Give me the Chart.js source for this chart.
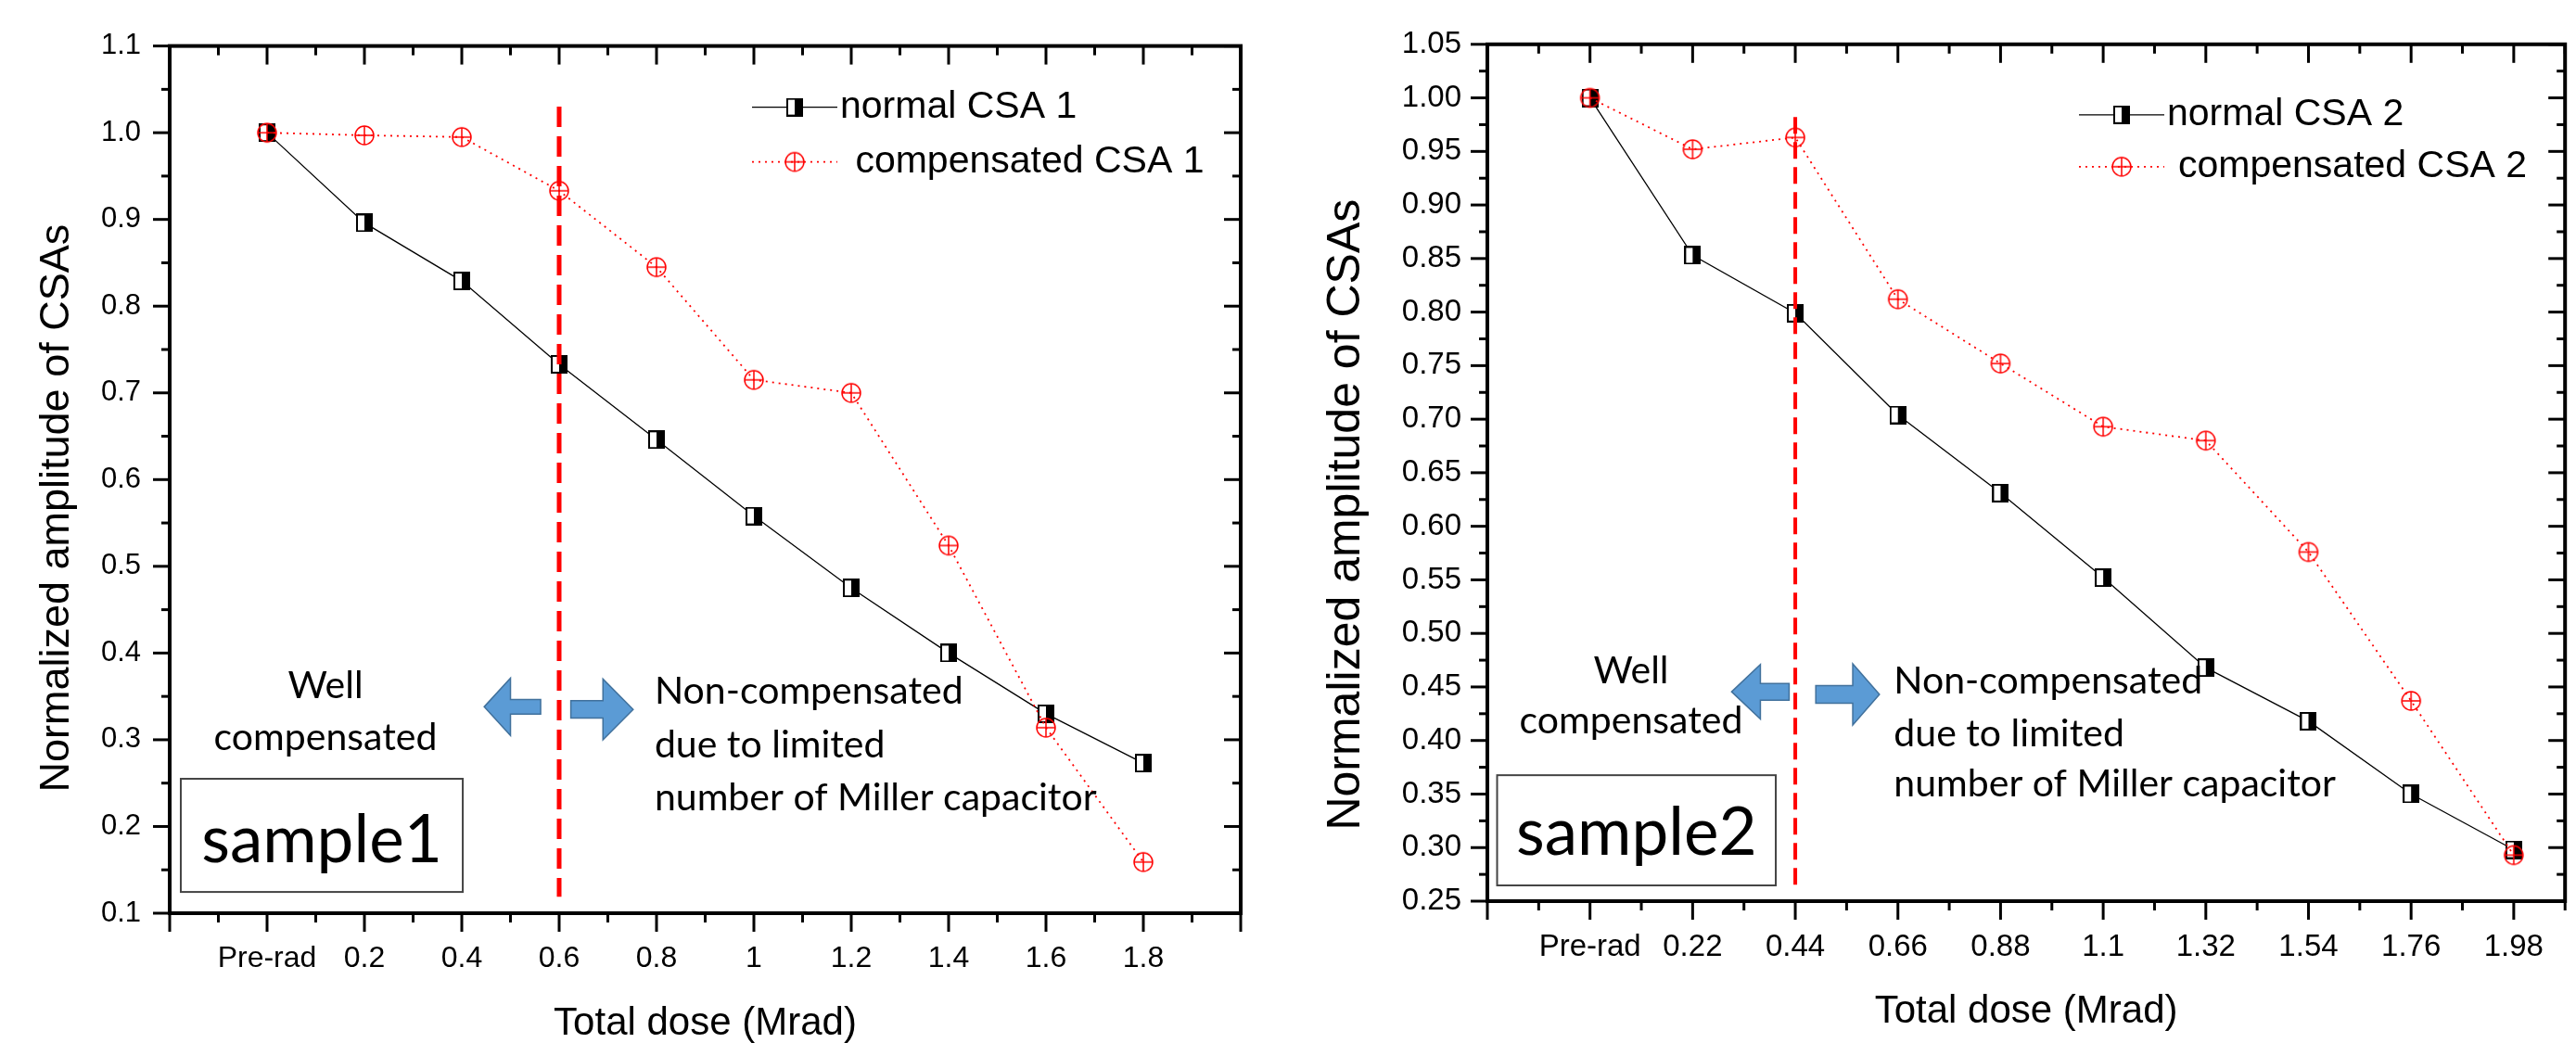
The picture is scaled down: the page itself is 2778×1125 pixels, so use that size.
<!DOCTYPE html>
<html>
<head>
<meta charset="utf-8">
<title>Normalized amplitude of CSAs vs total dose</title>
<script src="https://cdn.jsdelivr.net/npm/chart.js@4.4.0/dist/chart.umd.min.js"></script>
<style>
  body { margin: 0; background: #fff; }
  #wrap { position: relative; width: 2778px; height: 1125px; overflow: hidden; }
  canvas { position: absolute; top: 0; }
  #chart1 { left: 0; }
  #chart2 { left: 1390px; }
</style>
</head>
<body>
<div id="wrap">
  <canvas id="chart1" width="1390" height="1125"></canvas>
  <canvas id="chart2" width="1388" height="1125"></canvas>
</div>
<script>
// sample 1
const labels1 = ['Pre-rad', '0.2', '0.4', '0.6', '0.8', '1', '1.2', '1.4', '1.6', '1.8'];
const normal1 = [1.0, 0.896, 0.829, 0.733, 0.646, 0.558, 0.475, 0.400, 0.330, 0.273];
const comp1 = [1.0, 0.997, 0.995, 0.933, 0.845, 0.715, 0.700, 0.524, 0.314, 0.159];
const divider1 = [1.03, 0.119];   // dashed line at 0.6 Mrad (index 3)

// sample 2
const labels2 = ['Pre-rad', '0.22', '0.44', '0.66', '0.88', '1.1', '1.32', '1.54', '1.76', '1.98'];
const normal2 = [1.0, 0.853, 0.799, 0.704, 0.631, 0.552, 0.468, 0.418, 0.350, 0.298];
const comp2 = [1.0, 0.952, 0.963, 0.812, 0.752, 0.693, 0.680, 0.576, 0.437, 0.293];
const divider2 = [0.982, 0.265]; // dashed line at 0.44 Mrad (index 2)

const SANS = "'Liberation Sans', Arial, sans-serif";
const NOTE = "Lato, 'Open Sans', sans-serif";
Chart.defaults.font.family = SANS;
Chart.defaults.color = '#000';

// half white / half black square marker
function halfSquare() {
  const c = document.createElement('canvas');
  c.width = 18; c.height = 20;
  const g = c.getContext('2d');
  g.fillStyle = '#fff'; g.fillRect(0, 0, 18, 20);
  g.fillStyle = '#000'; g.fillRect(9, 0, 9, 20);
  g.strokeStyle = '#000'; g.lineWidth = 2; g.strokeRect(1, 1, 16, 18);
  return c;
}
// red circle with a cross
function circlePlus() {
  const c = document.createElement('canvas');
  c.width = 24; c.height = 24;
  const g = c.getContext('2d');
  g.strokeStyle = '#ff0000'; g.lineWidth = 1.5;
  g.beginPath(); g.arc(12, 12, 10, 0, Math.PI * 2); g.stroke();
  g.beginPath(); g.moveTo(2, 12); g.lineTo(22, 12); g.moveTo(12, 2); g.lineTo(12, 22); g.stroke();
  return c;
}
const sqMark = halfSquare();
const cpMark = circlePlus();

const pts = arr => arr.map((v, i) => ({x: i, y: v}));

// box frame, origin-style ticks, legend, notes and y title
const decor = {
  id: 'decor',
  afterDraw(chart, args, o) {
    const {ctx, chartArea: a, scales: {x, y}} = chart;
    const line = (x0, y0, x1, y1) => { ctx.beginPath(); ctx.moveTo(x0, y0); ctx.lineTo(x1, y1); ctx.stroke(); };
    ctx.save();
    ctx.strokeStyle = '#000';
    ctx.lineWidth = 4;
    ctx.strokeRect(a.left, a.top, a.right - a.left, a.bottom - a.top);
    ctx.lineWidth = 3;
    const nx = Math.round((x.max - x.min) / 0.5);
    for (let k = 0; k <= nx; k++) {
      const px = x.getPixelForValue(x.min + k * 0.5);
      const len = k % 2 === 0 ? 20 : 10;
      line(px, a.bottom, px, a.bottom + len);
      line(px, a.top, px, a.top + len);
    }
    const ny = Math.round((y.max - y.min) / o.yMinor);
    for (let k = 0; k <= ny; k++) {
      const py = y.getPixelForValue(y.min + k * o.yMinor);
      const len = k % 2 === 0 ? 18 : 9;
      line(a.left - len, py, a.left, py);
      line(a.right - len, py, a.right, py);
    }

    // legend
    ctx.font = '41px ' + SANS;
    ctx.fillStyle = '#000';
    ctx.textBaseline = 'middle';
    ctx.textAlign = 'left';
    chart.data.datasets.filter(d => d.legend).forEach((d, r) => {
      const ly = a.top + o.legendTop + r * o.legendGap;
      const lx = a.left + o.legendLeft;
      ctx.strokeStyle = d.borderColor;
      ctx.lineWidth = d.borderWidth;
      ctx.setLineDash(d.borderDash || []);
      line(lx, ly, lx + 92, ly);
      ctx.setLineDash([]);
      const m = d.pointStyle;
      ctx.drawImage(m, lx + 46 - m.width / 2, ly - m.height / 2);
      ctx.fillText(d.label, lx + d.legend, ly);
    });

    // y title
    ctx.save();
    ctx.translate(o.titleX, a.top + o.titleY * (a.bottom - a.top));
    ctx.rotate(-Math.PI / 2);
    ctx.textAlign = 'center';
    ctx.font = o.titleSize + 'px ' + SANS;
    ctx.fillText('Normalized amplitude of CSAs', 0, 0);
    ctx.restore();

    // arrows
    ctx.fillStyle = '#5b9bd5';
    ctx.strokeStyle = '#41719c';
    ctx.lineWidth = 1.5;
    o.arrows.forEach(ar => {
      const tip = x.getPixelForValue(ar.tip), base = x.getPixelForValue(ar.base), tail = x.getPixelForValue(ar.tail);
      const cy = y.getPixelForValue(ar.y);
      const hh = y.getPixelForValue(ar.y - ar.head) - cy, sh = y.getPixelForValue(ar.y - ar.shaft) - cy;
      ctx.beginPath();
      ctx.moveTo(tip, cy);
      ctx.lineTo(base, cy - hh);
      ctx.lineTo(base, cy - sh);
      ctx.lineTo(tail, cy - sh);
      ctx.lineTo(tail, cy + sh);
      ctx.lineTo(base, cy + sh);
      ctx.lineTo(base, cy + hh);
      ctx.closePath();
      ctx.fill();
      ctx.stroke();
    });

    // notes
    ctx.fillStyle = '#000';
    ctx.textBaseline = 'alphabetic';
    o.notes.forEach(n => {
      ctx.font = n.size + 'px ' + NOTE;
      ctx.textAlign = n.align;
      ctx.fillText(n.text, x.getPixelForValue(n.x), y.getPixelForValue(n.y));
    });

    // sample box
    const b = o.box;
    const bx0 = x.getPixelForValue(b.x0), bx1 = x.getPixelForValue(b.x1);
    const by0 = y.getPixelForValue(b.y0), by1 = y.getPixelForValue(b.y1);
    ctx.strokeStyle = '#444';
    ctx.lineWidth = 2;
    ctx.strokeRect(bx0, by0, bx1 - bx0, by1 - by0);
    ctx.font = '71px ' + NOTE;
    ctx.textAlign = 'center';
    ctx.fillText(b.text, (bx0 + bx1) / 2, y.getPixelForValue(b.base));
    ctx.restore();
  }
};

function buildChart(id, cfg) {
  return new Chart(document.getElementById(id), {
    type: 'line',
    data: {
      datasets: [{
        label: 'divider',
        data: [{x: cfg.divX, y: cfg.divider[0]}, {x: cfg.divX, y: cfg.divider[1]}],
        borderColor: '#ff0000',
        borderWidth: cfg.divWidth,
        borderDash: cfg.divDash,
        pointRadius: 0,
        order: 0
      }, {
        label: cfg.names[0],
        data: pts(cfg.normal),
        borderColor: '#000',
        borderWidth: 1.3,
        pointStyle: sqMark,
        pointRadius: 10,
        legend: 95,
        order: 2
      }, {
        label: cfg.names[1],
        data: pts(cfg.comp),
        borderColor: '#ff0000',
        borderWidth: 1.8,
        borderDash: [2, 5],
        pointStyle: cpMark,
        pointRadius: 10,
        legend: cfg.legendText2,
        order: 1
      }]
    },
    options: {
      responsive: false,
      animation: false,
      devicePixelRatio: 1,
      layout: {padding: cfg.padding},
      plugins: {
        legend: {display: false},
        tooltip: {enabled: false},
        decor: cfg.decor
      },
      scales: {
        x: {
          type: 'linear',
          min: -1,
          max: cfg.xMax,
          grid: {display: false, drawTicks: false},
          border: {display: false},
          ticks: {
            autoSkip: false,
            maxRotation: 0,
            padding: cfg.xPad,
            font: {size: cfg.xTickSize},
            callback: v => (Number.isInteger(v) && cfg.labels[v] !== undefined) ? cfg.labels[v] : ''
          },
          afterBuildTicks: s => { s.ticks = cfg.labels.map((_, i) => ({value: i})); },
          title: {
            display: true,
            text: 'Total dose (Mrad)',
            font: {size: 42, lineHeight: 1},
            padding: {top: 0, bottom: cfg.xTitlePad}
          },
          afterFit: s => { s.height = cfg.xHeight; }
        },
        y: {
          min: cfg.yMin,
          max: cfg.yMax,
          grid: {display: false, drawTicks: false},
          border: {display: false},
          ticks: {
            stepSize: cfg.yStep,
            autoSkip: false,
            maxTicksLimit: 30,
            padding: cfg.yPad,
            font: {size: cfg.yTickSize},
            callback: v => v.toFixed(cfg.yDigits)
          },
          afterFit: s => { s.width = cfg.yWidth; }
        }
      }
    },
    plugins: [decor]
  });
}

buildChart('chart1', {
  labels: labels1, normal: normal1, comp: comp1,
  names: ['normal CSA 1', ' compensated CSA 1'],
  legendText2: 100,
  divider: divider1, divX: 3, divWidth: 5, divDash: [22, 10],
  xMax: 10, yMin: 0.1, yMax: 1.1, yStep: 0.1, yDigits: 1,
  padding: {top: 48, right: 52, bottom: 0, left: 0},
  xHeight: 140, yWidth: 183, xPad: 30, yPad: 31, xTickSize: 32, yTickSize: 31, xTitlePad: 0,
  decor: {
    yMinor: 0.05, legendLeft: 628, legendTop: 66, legendGap: 59,
    titleX: 62, titleY: 0.533, titleSize: 45,
    arrows: [
      {tip: 2.23, base: 2.50, tail: 2.81, y: 0.338, head: 0.033, shaft: 0.0085},
      {tip: 3.76, base: 3.45, tail: 3.12, y: 0.335, head: 0.035, shaft: 0.010}
    ],
    notes: [
      {text: 'Well', x: 0.6, y: 0.348, size: 41, align: 'center'},
      {text: 'compensated', x: 0.6, y: 0.288, size: 41, align: 'center'},
      {text: 'Non-compensated', x: 3.98, y: 0.342, size: 41, align: 'left'},
      {text: 'due to limited', x: 3.98, y: 0.280, size: 41, align: 'left'},
      {text: 'number of Miller capacitor', x: 3.98, y: 0.219, size: 41, align: 'left'}
    ],
    box: {text: 'sample1', x0: -0.886, x1: 2.01, y0: 0.255, y1: 0.1245, base: 0.159}
  }
});

buildChart('chart2', {
  labels: labels2, normal: normal2, comp: comp2,
  names: ['normal CSA 2', 'compensated CSA 2'],
  legendText2: 107,
  divider: divider2, divX: 2, divWidth: 4, divDash: [18, 9],
  xMax: 9.5, yMin: 0.25, yMax: 1.05, yStep: 0.05, yDigits: 2,
  padding: {top: 47, right: 2, bottom: 0, left: 0},
  xHeight: 153, yWidth: 214, xPad: 30, yPad: 28, xTickSize: 33, yTickSize: 33, xTitlePad: 13,
  decor: {
    yMinor: 0.025, legendLeft: 638, legendTop: 76, legendGap: 56,
    titleX: 62, titleY: 0.549, titleSize: 50,
    arrows: [
      {tip: 1.38, base: 1.66, tail: 1.94, y: 0.4455, head: 0.0255, shaft: 0.0078},
      {tip: 2.82, base: 2.56, tail: 2.20, y: 0.443, head: 0.0285, shaft: 0.0082}
    ],
    notes: [
      {text: 'Well', x: 0.40, y: 0.4536, size: 41, align: 'center'},
      {text: 'compensated', x: 0.40, y: 0.4069, size: 41, align: 'center'},
      {text: 'Non-compensated', x: 2.96, y: 0.4438, size: 41, align: 'left'},
      {text: 'due to limited', x: 2.96, y: 0.3945, size: 41, align: 'left'},
      {text: 'number of Miller capacitor', x: 2.96, y: 0.3478, size: 41, align: 'left'}
    ],
    box: {text: 'sample2', x0: -0.905, x1: 1.81, y0: 0.3676, y1: 0.2647, base: 0.2933}
  }
});
</script>
</body>
</html>
